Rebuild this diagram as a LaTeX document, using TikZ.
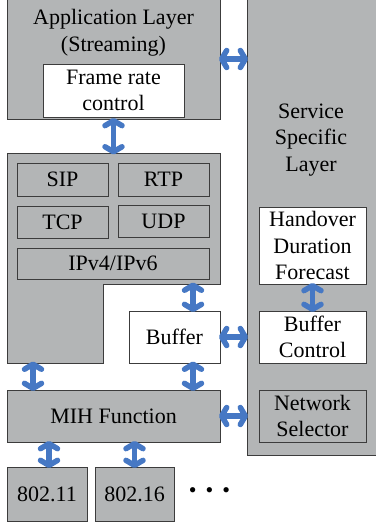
\documentclass[tikz,border=0pt]{standalone}
\usepackage{fontspec}
\setmainfont{Liberation Serif}
\usetikzlibrary{arrows.meta, positioning}
\definecolor{layergray}{RGB}{179,181,182}
\definecolor{boxline}{RGB}{60,60,60}
\definecolor{arrowblue}{RGB}{70,120,196}

\begin{document}
\begin{tikzpicture}[x=1pt, y=-1pt,
  box/.style={draw=boxline, line width=0.8pt, fill=layergray, inner sep=0pt,
    align=center, font=\fontsize{22}{26.5}\selectfont},
  wbox/.style={box, fill=white},
  txt/.style={inner sep=0pt, align=center, font=\fontsize{22}{26.5}\selectfont},
  link/.style={draw=arrowblue, line width=5.5pt,
    {Straight Barb[length=5pt,width=17pt,round]}-{Straight Barb[length=5pt,width=17pt,round]},
    shorten <=-1.5pt, shorten >=-1.5pt}]
  \useasboundingbox (0,0) rectangle (375,527);

  % application layer
  \node[box, minimum width=213pt, minimum height=124pt] (app) at (113.5,57) {};
  \node[txt] (apptitle) at (113.5,32.5) {Application Layer\\(Streaming)};
  \node[wbox, minimum width=141pt, minimum height=53pt] (frc) at (113.5,90.5) {Frame rate\\control};

  % service specific layer
  \node[box, minimum width=133pt, minimum height=461pt] (ssl) at (313.5,225) {};
  \node[txt] (ssltitle) at (311,140) {Service\\Specific\\Layer};
  \node[wbox, minimum width=107pt, minimum height=77pt] (hdf) at (312.5,245.5) {Handover\\Duration\\Forecast};
  \node[wbox, minimum width=107pt, minimum height=52pt] (bc) at (312.5,337) {Buffer\\Control};
  \node[box, minimum width=107pt, minimum height=52pt] (ns) at (312.5,416) {Network\\Selector};

  % protocol stack
  \draw[draw=boxline, line width=0.8pt, fill=layergray]
    (7,153) -- (220,153) -- (220,284) -- (103,284) -- (103,363) -- (7,363) -- cycle;
  \coordinate (stacktop) at (113.5,153);
  \coordinate (stackstep) at (193,284);
  \coordinate (stackfoot) at (33,363);
  \node[box, minimum width=91pt, minimum height=33pt] (sip) at (62.5,179.5) {SIP};
  \node[box, minimum width=91pt, minimum height=33pt] (rtp) at (163.5,179.5) {RTP};
  \node[box, minimum width=91pt, minimum height=32pt] (tcp) at (62.5,222) {TCP};
  \node[box, minimum width=91pt, minimum height=32pt] (udp) at (163.5,221.5) {UDP};
  \node[box, minimum width=192pt, minimum height=31pt] (ip) at (113,263.5) {IPv4/IPv6};

  \node[wbox, minimum width=91pt, minimum height=52pt] (buffer) at (174.5,337) {Buffer};
  \node[box, minimum width=213pt, minimum height=52pt] (mih) at (113.5,416) {MIH Function};
  \node[box, minimum width=80pt, minimum height=54pt] (w11) at (47,494) {802.11};
  \node[box, minimum width=79pt, minimum height=54pt] (w16) at (134.5,494) {802.16};
  \node[txt] (dots) at (209.5,493) {\textbullet\kern9pt\textbullet\kern9pt\textbullet};
  \coordinate (bufx) at (193,363);

  % links
  \draw[link] (app.east |- 0,59) -- (ssl.west |- 0,59);
  \draw[link] (app.south) -- (stacktop);
  \draw[link] (stackstep) -- (stackstep |- buffer.north);
  \draw[link] (buffer.east) -- (ssl.west |- buffer.east);
  \draw[link] (hdf.south) -- (bc.north);
  \draw[link] (stackfoot) -- (stackfoot |- mih.north);
  \draw[link] (bufx) -- (bufx |- mih.north);
  \draw[link] (mih.east) -- (ssl.west |- mih.east);
  \draw[link] (w11.north -| 49,0) -- (mih.south -| 49,0);
  \draw[link] (w16.north) -- (w16.north |- mih.south);
\end{tikzpicture}
\end{document}
